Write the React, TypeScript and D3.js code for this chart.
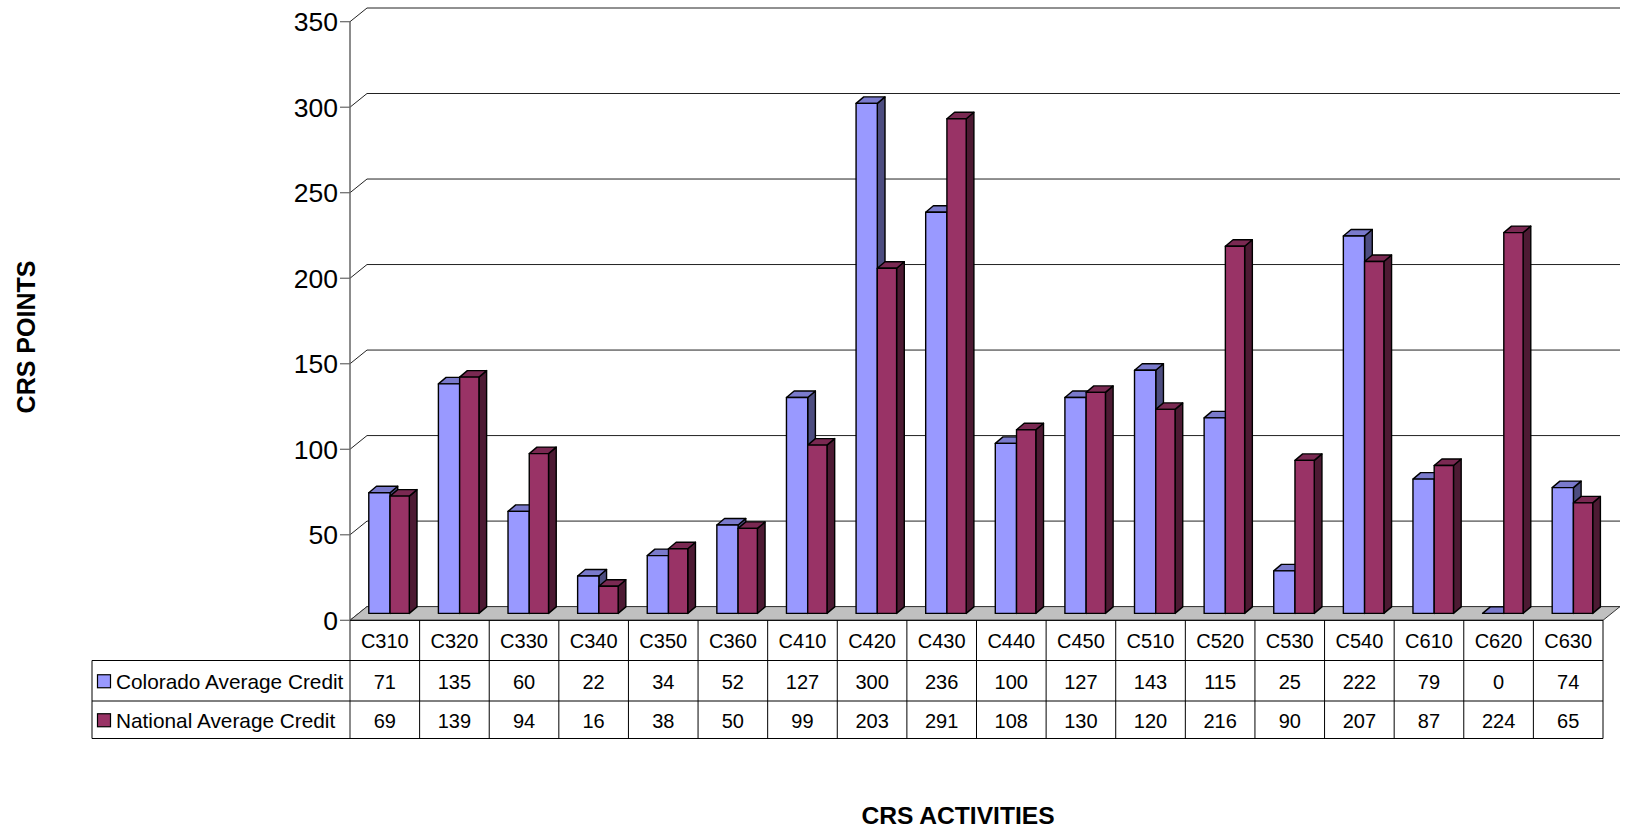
import { scaleBand, scaleLinear } from "d3";

const categories = [
  "C310", "C320", "C330", "C340", "C350", "C360", "C410", "C420", "C430",
  "C440", "C450", "C510", "C520", "C530", "C540", "C610", "C620", "C630",
];
const colorado = [71, 135, 60, 22, 34, 52, 127, 300, 236, 100, 127, 143, 115, 25, 222, 79, 0, 74];
const national = [69, 139, 94, 16, 38, 50, 99, 203, 291, 108, 130, 120, 216, 90, 207, 87, 224, 65];
const yTicks = [0, 50, 100, 150, 200, 250, 300, 350];

const series = [
  { name: "Colorado Average Credit", values: colorado, front: "#9999ff", top: "#7a7acc", side: "#4d4d80", off: 0.27, w: 0.305 },
  { name: "National Average Credit", values: national, front: "#993366", top: "#7a2952", side: "#4d1a33", off: 0.575, w: 0.277 },
];

const W = 1631;
const H = 830;
const left = 350;
const right = 1603;
const depthX = 17;
const depthY = -13.7;
const barDX = 7.7;
const barDY = -6.5;
const font = '"Liberation Sans", Arial, Helvetica, sans-serif';

const rowTop = 620.3;
const row1 = 660.5;
const row2 = 701;
const rowBottom = 738.5;
const legendLeft = 92;

function App() {
  const x = scaleBand<string>().domain(categories).range([left, right]).padding(0);
  const bw = x.bandwidth();
  const yFront = scaleLinear().domain([0, 350]).range([620.3, 21.7]);
  const yBar = scaleLinear().domain([0, 350]).range([613.4, 613.4 - 350 * 1.7]);

  return (
    <svg
      width={W}
      height={H}
      style={{ position: "absolute", left: 0, top: 0, background: "white" }}
      fontFamily={font}
    >
      {/* back wall gridlines */}
      {yTicks.map((t) => (
        <g key={t}>
          <line
            x1={left + depthX}
            x2={right + depthX}
            y1={yFront(t) + depthY}
            y2={yFront(t) + depthY}
            stroke="#222"
            strokeWidth={1}
          />
          <line
            x1={left}
            x2={left + depthX}
            y1={yFront(t)}
            y2={yFront(t) + depthY}
            stroke="#222"
            strokeWidth={1}
          />
          <line x1={left - 10} x2={left} y1={yFront(t)} y2={yFront(t)} stroke="#666" strokeWidth={1.2} />
          <text
            x={left - 12}
            y={yFront(t)}
            dy="0.36em"
            textAnchor="end"
            fontSize={26.5}
            fill="#000"
          >
            {t}
          </text>
        </g>
      ))}

      {/* floor */}
      <polygon
        points={`${left},${rowTop} ${right},${rowTop} ${right + depthX},${rowTop + depthY} ${left + depthX},${rowTop + depthY}`}
        fill="#c0c0c0"
        stroke="#333"
        strokeWidth={1}
      />

      {/* bars */}
      {categories.map((c, i) => (
        <g key={c}>
          {series.map((s) => {
            const x0 = (x(c) ?? 0) + bw * s.off;
            const w = bw * s.w;
            const yb = yBar(0);
            const yt = yBar(s.values[i]);
            return (
              <g key={s.name} stroke="#000" strokeWidth={1.4} strokeLinejoin="round">
                <polygon
                  points={`${x0 + w},${yt} ${x0 + w + barDX},${yt + barDY} ${x0 + w + barDX},${yb + barDY} ${x0 + w},${yb}`}
                  fill={s.side}
                />
                <polygon
                  points={`${x0},${yt} ${x0 + barDX},${yt + barDY} ${x0 + w + barDX},${yt + barDY} ${x0 + w},${yt}`}
                  fill={s.top}
                />
                <rect x={x0} y={yt} width={w} height={yb - yt} fill={s.front} />
              </g>
            );
          })}
        </g>
      ))}

      {/* value axis line */}
      <line x1={left} x2={left} y1={yFront(350)} y2={rowBottom} stroke="#666" strokeWidth={1.5} />

      {/* data table */}
      <g stroke="#000" strokeWidth={1}>
        <line x1={left} x2={right} y1={rowTop} y2={rowTop} />
        {[row1, row2, rowBottom].map((yy) => (
          <line key={yy} x1={legendLeft} x2={right} y1={yy} y2={yy} />
        ))}
        <line x1={legendLeft} x2={legendLeft} y1={row1} y2={rowBottom} />
        {categories.map((c) => (
          <line key={c} x1={(x(c) ?? 0) + bw} x2={(x(c) ?? 0) + bw} y1={rowTop} y2={rowBottom} />
        ))}
      </g>
      {categories.map((c, i) => (
        <g key={c} fontSize={20} textAnchor="middle" fill="#000">
          <text x={(x(c) ?? 0) + bw / 2} y={(rowTop + row1) / 2} dy="0.4em">
            {c}
          </text>
          <text x={(x(c) ?? 0) + bw / 2} y={(row1 + row2) / 2} dy="0.4em">
            {colorado[i]}
          </text>
          <text x={(x(c) ?? 0) + bw / 2} y={(row2 + rowBottom) / 2} dy="0.4em">
            {national[i]}
          </text>
        </g>
      ))}
      {series.map((s, k) => {
        const cy = k === 0 ? (row1 + row2) / 2 : (row2 + rowBottom) / 2;
        return (
          <g key={s.name}>
            <rect x={97.5} y={cy - 6} width={13} height={13} fill={s.front} stroke="#000" strokeWidth={1.2} />
            <text x={116} y={cy} dy="0.4em" fontSize={20.8} fill="#000">
              {s.name}
            </text>
          </g>
        );
      })}

      {/* axis titles */}
      <text
        transform={`translate(26, 337) rotate(-90)`}
        textAnchor="middle"
        dy="0.36em"
        fontSize={25}
        fontWeight={700}
      >
        CRS POINTS
      </text>
      <text x={958} y={824} textAnchor="middle" fontSize={24.6} fontWeight={700}>
        CRS ACTIVITIES
      </text>
    </svg>
  );
}

export default App;
